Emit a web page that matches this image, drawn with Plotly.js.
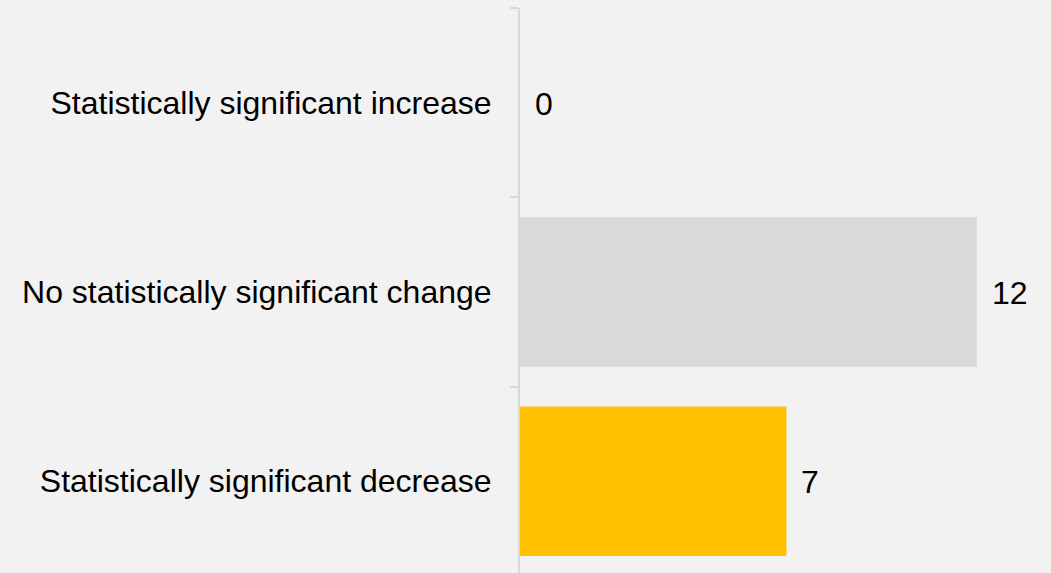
<!DOCTYPE html>
<html>
<head>
<meta charset="utf-8">
<script src="https://cdn.plot.ly/plotly-3.0.1.min.js"></script>
<style>html,body{margin:0;padding:0;background:#f2f2f2;}#chart{width:1051px;height:573px;}</style>
</head>
<body>
<div id="chart"></div>
<script>
const categories = ["Statistically significant increase", "No statistically significant change", "Statistically significant decrease"];
const values = [0, 12, 7];
const barColors = ["#d9d9d9", "#d9d9d9", "#ffc000"];

const trace = {
  type: "bar",
  orientation: "h",
  x: values,
  y: categories,
  marker: {color: barColors},
  width: 0.79,
  hoverinfo: "none"
};

const annotations = categories.map((c, i) => ({
  x: values[i], y: c, xref: "x", yref: "y",
  text: String(values[i]), showarrow: false,
  xanchor: "left", yanchor: "middle", xshift: 13, yshift: -1,
  font: {family: "Liberation Sans, Arial, sans-serif", size: 32, color: "#000000"}
}));

const layout = {
  width: 1051, height: 573,
  paper_bgcolor: "#f2f2f2", plot_bgcolor: "#f2f2f2",
  margin: {l: 520, r: 0, t: 8, b: 0},
  showlegend: false,
  font: {family: "Liberation Sans, Arial, sans-serif", size: 32, color: "#000000"},
  xaxis: {range: [0, 13.95], showgrid: false, zeroline: false, showticklabels: false, showline: false, ticks: "", fixedrange: true},
  yaxis: {
    type: "category", range: [2.485, -0.5],
    showgrid: false, zeroline: false,
    showline: true, linecolor: "#d9d9d9", linewidth: 2,
    ticks: "outside", ticklen: 8, tickcolor: "#d9d9d9", tickwidth: 2,
    tickson: "boundaries", ticklabelstandoff: 20,
    tickfont: {family: "Liberation Sans, Arial, sans-serif", size: 32, color: "#000000"},
    fixedrange: true
  },
  annotations: annotations
};

Plotly.newPlot("chart", [trace], layout, {displayModeBar: false, staticPlot: true});
</script>
</body>
</html>
